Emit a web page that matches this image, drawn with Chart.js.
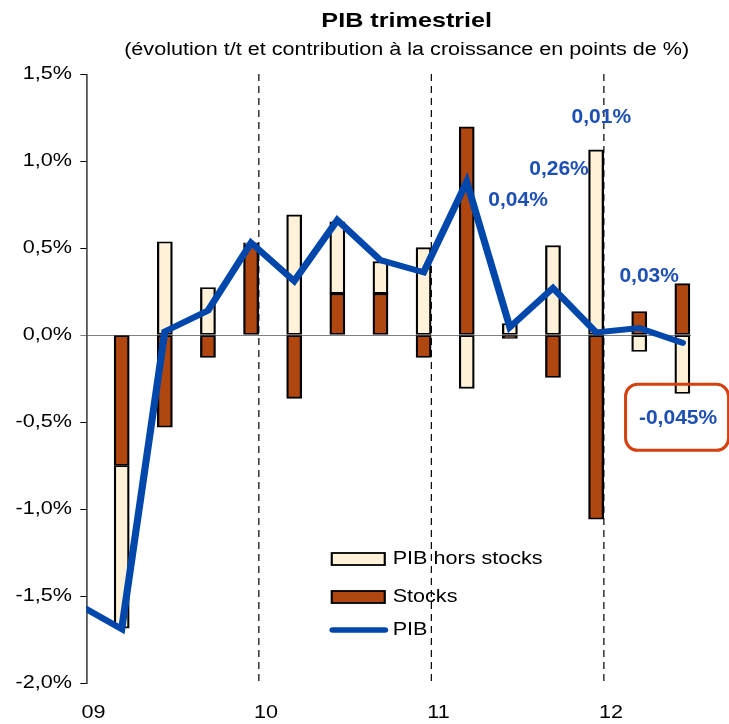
<!DOCTYPE html>
<html>
<head>
<meta charset="utf-8">
<script src="https://cdn.jsdelivr.net/npm/chart.js@4.4.1/dist/chart.umd.min.js"></script>
<style>
  html, body { margin: 0; padding: 0; background: #fff; }
  canvas { display: block; }
</style>
</head>
<body>
<canvas id="pibChart" width="608" height="724"></canvas>
<script>
// Data (points de %), 2008T4 only carries the end of the PIB line
const quarters = ['2008T4', '2009T1', '2009T2', '2009T3', '2009T4', '2010T1', '2010T2', '2010T3',
                  '2010T4', '2011T1', '2011T2', '2011T3', '2011T4', '2012T1', '2012T2'];
const horsStocks = [null, -0.935, 0.536, 0.273, 0.01, 0.69, 0.413, 0.184, 0.502, -0.307, 0.066, 0.514, 1.064, -0.095, -0.336];
const stocks     = [null, -0.75, -0.53, -0.129, 0.52, -0.364, 0.238, 0.238, -0.129, 1.196, -0.02, -0.244, -1.059, 0.135, 0.295];
const pib        = [-1.55, -1.69, 0.02, 0.14, 0.53, 0.31, 0.66, 0.43, 0.36, 0.88, 0.045, 0.27, 0.015, 0.04, -0.045];
const yearLabels = ['09', '10', '11', '12'];
const legendLabels = ['PIB hors stocks', 'Stocks', 'PIB'];

// Value notes written on the chart
const noteTexts = ['0,04%', '0,26%', '0,01%', '0,03%', '-0,045%'];
const noteX = [9.19, 10.14, 11.12, 12.23, 12.9];
const noteY = [0.777, 0.95, 1.254, 0.336, -0.479];

// Colours
const CREAM = '#FFF2D9';
const BROWN = '#B04710';
const BLUE = '#0047AB';
const NOTE_BLUE = '#1E50B4';
const RED = '#D2410F';
const FONT = "'Liberation Sans', Arial, sans-serif";

// The reference is stretched horizontally, the chart is drawn narrow and widened
const S = 729 / 608;
const yearOffset = -0.82;
const yearPos = yearLabels.map((_, k) => 4 * k + yearOffset);

const toPoints = (arr) => arr.map((v, i) => ({ x: i - 1, y: v })).filter(p => p.y !== null);

Chart.defaults.font.family = FONT;

const decor = {
    id: 'decor',
    beforeDraw(chart) {
        chart.ctx.setTransform(S, 0, 0, 1, 0, 0);
    },
    beforeDatasetsDraw(chart) {
        const { ctx, chartArea: a, scales: { x } } = chart;
        ctx.save();
        ctx.strokeStyle = '#000';
        ctx.lineWidth = 1;
        ctx.setLineDash([7, 5]);
        yearPos.slice(1).forEach(v => {
            const px = x.getPixelForValue(v);
            ctx.beginPath();
            ctx.moveTo(px, a.top);
            ctx.lineTo(px, a.bottom);
            ctx.stroke();
        });
        ctx.restore();
    },
    afterDraw(chart) {
        const { ctx, scales: { x, y } } = chart;
        ctx.save();

        // Title
        ctx.fillStyle = '#000';
        ctx.textAlign = 'center';
        ctx.textBaseline = 'middle';
        ctx.font = 'bold 21px ' + FONT;
        ctx.fillText('PIB trimestriel', 339.2, 21);
        ctx.font = '18px ' + FONT;
        ctx.fillText('(évolution t/t et contribution à la croissance en points de %)', 339.2, 50);

        // Legend
        const rows = [559, 597, 630];
        ctx.textAlign = 'left';
        ctx.font = '18px ' + FONT;
        [CREAM, BROWN].forEach((col, i) => {
            ctx.fillStyle = col;
            ctx.fillRect(276.7, rows[i] - 6, 44.2, 12);
            ctx.strokeStyle = '#000';
            ctx.lineWidth = 1.8;
            ctx.strokeRect(276.7, rows[i] - 6, 44.2, 12);
        });
        ctx.strokeStyle = BLUE;
        ctx.lineWidth = 5.5;
        ctx.lineCap = 'round';
        ctx.beginPath();
        ctx.moveTo(277.5, rows[2]);
        ctx.lineTo(321, rows[2]);
        ctx.stroke();
        ctx.fillStyle = '#000';
        legendLabels.forEach((t, i) => ctx.fillText(t, 327.5, rows[i]));

        // Notes, drawn without the stretch
        ctx.setTransform(1, 0, 0, 1, 0, 0);
        ctx.font = 'bold 21px ' + FONT;
        ctx.textAlign = 'center';
        ctx.fillStyle = NOTE_BLUE;
        noteTexts.forEach((t, i) => {
            const px = S * x.getPixelForValue(noteX[i]);
            const py = y.getPixelForValue(noteY[i]);
            ctx.fillText(t, px, py);
        });

        // Red frame round the last note
        const last = noteTexts.length - 1;
        const cx = S * x.getPixelForValue(noteX[last]) - 1;
        const cy = y.getPixelForValue(noteY[last]) - 1;
        const w = 103, h = 66, r = 12;
        const l = cx - w / 2, t = cy - h / 2;
        ctx.strokeStyle = RED;
        ctx.lineWidth = 3;
        ctx.beginPath();
        ctx.moveTo(l + r, t);
        ctx.arcTo(l + w, t, l + w, t + h, r);
        ctx.arcTo(l + w, t + h, l, t + h, r);
        ctx.arcTo(l, t + h, l, t, r);
        ctx.arcTo(l, t, l + w, t, r);
        ctx.closePath();
        ctx.stroke();

        ctx.restore();
    }
};

const barStyle = {
    type: 'bar',
    borderColor: '#000',
    borderWidth: 1.9,
    borderSkipped: false,
    barThickness: 12.5,
    stack: 'contrib',
    order: 1
};

const canvas = document.getElementById('pibChart');
const chart = new Chart(canvas, {
    data: {
        datasets: [{
            type: 'line',
            label: 'PIB',
            data: toPoints(pib),
            borderColor: BLUE,
            borderWidth: 6,
            borderCapStyle: 'round',
            pointRadius: 0,
            tension: 0,
            stack: 'pib',
            order: 0,
            clip: { left: 0, top: false, right: false, bottom: false }
        }, {
            ...barStyle,
            label: 'Stocks',
            data: toPoints(stocks),
            backgroundColor: BROWN
        }, {
            ...barStyle,
            label: 'PIB hors stocks',
            data: toPoints(horsStocks),
            backgroundColor: CREAM
        }]
    },
    options: {
        responsive: false,
        animation: false,
        events: [],
        layout: { padding: { top: 74, right: 31.7, left: 0, bottom: 0 } },
        plugins: {
            legend: { display: false },
            title: { display: false },
            tooltip: { enabled: false }
        },
        scales: {
            x: {
                type: 'linear',
                stacked: true,
                offset: false,
                min: yearPos[0],
                max: 13.2,
                afterBuildTicks: (scale) => { scale.ticks = yearPos.map(v => ({ value: v })); },
                afterFit: (scale) => { scale.height = 41; },
                ticks: {
                    callback: (v, i) => yearLabels[i],
                    autoSkip: false,
                    maxRotation: 0,
                    labelOffset: 6,
                    padding: 19,
                    color: '#000',
                    font: { size: 18 }
                },
                grid: { display: false, drawTicks: false, offset: false },
                border: { display: false }
            },
            y: {
                stacked: true,
                min: -2,
                max: 1.5,
                afterFit: (scale) => { scale.width = 72; },
                ticks: {
                    stepSize: 0.5,
                    callback: (v) => v.toFixed(1).replace('.', ',') + '%',
                    padding: 7,
                    color: '#000',
                    font: { size: 18 }
                },
                grid: {
                    color: (c) => c.tick && c.tick.value === 0 ? '#808080' : 'rgba(0,0,0,0)',
                    tickColor: (c) => c.tick && c.tick.value === 0 ? '#808080' : '#000',
                    tickLength: 5,
                    lineWidth: 1
                },
                border: { display: true, color: '#000', width: 1 }
            }
        }
    },
    plugins: [decor]
});

// widen the bitmap and redraw with the horizontal stretch
canvas.width = 729;
canvas.style.width = '729px';
canvas.style.height = '724px';
chart.draw();
</script>
</body>
</html>
